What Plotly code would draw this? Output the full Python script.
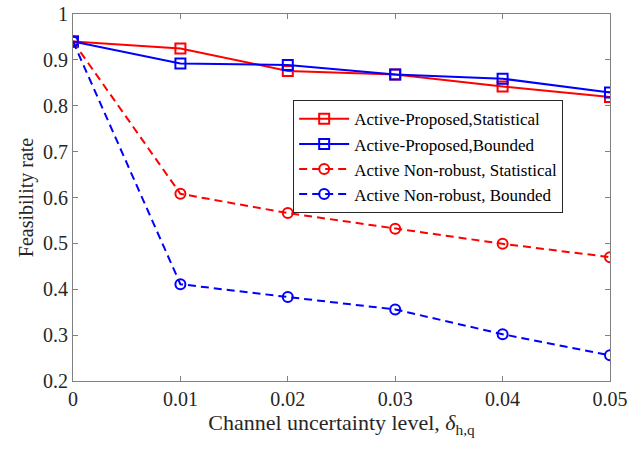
import plotly.graph_objects as go

x_vals = [0, 0.01, 0.02, 0.03, 0.04, 0.05]
prop_stat = [0.94, 0.925, 0.876, 0.868, 0.842, 0.819]
prop_bound = [0.94, 0.892, 0.889, 0.868, 0.859, 0.829]
nonrob_stat = [0.94, 0.608, 0.566, 0.532, 0.499, 0.470]
nonrob_bound = [0.94, 0.411, 0.383, 0.356, 0.302, 0.256]

x_ticktext = ["0", "0.01", "0.02", "0.03", "0.04", "0.05"]
y_tickvals = [0.2, 0.3, 0.4, 0.5, 0.6, 0.7, 0.8, 0.9, 1.0]
y_ticktext = ["0.2", "0.3", "0.4", "0.5", "0.6", "0.7", "0.8", "0.9", "1"]

names = ["Active-Proposed,Statistical", "Active-Proposed,Bounded",
         "Active Non-robust, Statistical", "Active Non-robust, Bounded"]
series = [prop_stat, prop_bound, nonrob_stat, nonrob_bound]
colors = ["#ff0000", "#0000ff", "#ff0000", "#0000ff"]
dashes = ["solid", "solid", "8px,5px", "8px,5px"]
symbols = ["square-open", "square-open", "circle-open", "circle-open"]

fig = go.Figure()
for nm, ys, c, d, s in zip(names, series, colors, dashes, symbols):
    fig.add_trace(go.Scatter(
        x=x_vals, y=ys, name=nm, mode="lines+markers",
        line=dict(color=c, width=2, dash=d),
        marker=dict(symbol=s, size=10, color=c, line=dict(width=2, color=c)),
    ))

axis_common = dict(
    showline=True, mirror="ticks", linecolor="#808080", linewidth=1,
    ticks="inside", ticklen=5, tickcolor="#808080",
    showgrid=False, zeroline=False, automargin=False,
    tickfont=dict(family="Liberation Serif", size=20, color="#262626"),
)

fig.update_layout(
    width=634, height=449,
    margin=dict(l=73, r=24, t=14, b=68),
    paper_bgcolor="white", plot_bgcolor="white",
    font=dict(family="Liberation Serif", color="#262626"),
    xaxis=dict(range=[0, 0.05], tickvals=x_vals, ticktext=x_ticktext,
               title=dict(text="Channel uncertainty level, <i>δ</i><sub>h,q</sub>",
                          font=dict(size=22), standoff=1),
               **axis_common),
    yaxis=dict(range=[0.2, 1.0], tickvals=y_tickvals, ticktext=y_ticktext,
               title=dict(text="Feasibility rate", font=dict(size=20), standoff=4),
               **axis_common),
    legend=dict(x=0.41, y=0.765, xanchor="left", yanchor="top",
                bgcolor="white", bordercolor="#262626", borderwidth=1,
                font=dict(family="Liberation Serif", size=17, color="black"),
                tracegroupgap=0, itemwidth=50),
    showlegend=True,
)

fig.write_html("out.html")
